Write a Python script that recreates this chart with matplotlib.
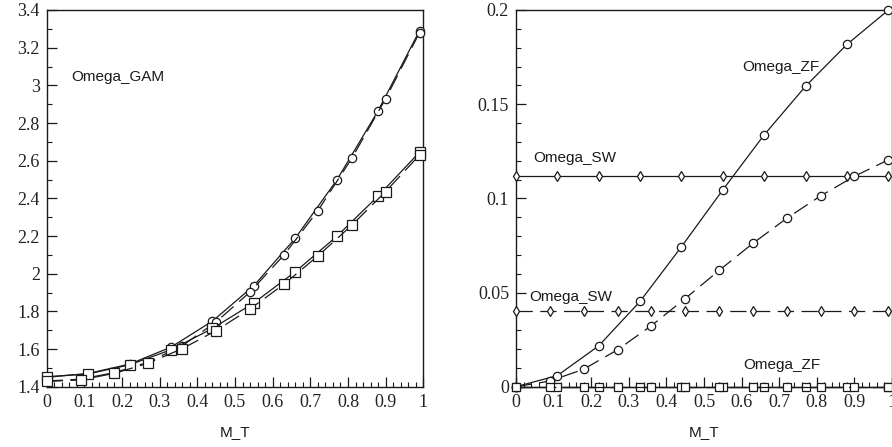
import matplotlib
matplotlib.use("Agg")
import matplotlib.pyplot as plt
from matplotlib.ticker import MultipleLocator

# ---- data ----
x_a = [0.0, 0.11, 0.22, 0.33, 0.44, 0.55, 0.66, 0.77, 0.88, 0.99]
x_b = [0.0, 0.09, 0.18, 0.27, 0.36, 0.45, 0.54, 0.63, 0.72, 0.81, 0.90, 0.99]

# left panel: Omega_GAM
gam_circ_a = [1.450, 1.470, 1.520, 1.610, 1.748, 1.936, 2.188, 2.496, 2.865, 3.290]
gam_circ_b = [1.430, 1.440, 1.475, 1.530, 1.618, 1.744, 1.903, 2.099, 2.334, 2.612, 2.929, 3.280]
gam_sq_a = [1.453, 1.468, 1.516, 1.596, 1.709, 1.845, 2.010, 2.198, 2.412, 2.645]
gam_sq_b = [1.428, 1.436, 1.471, 1.525, 1.602, 1.698, 1.813, 1.944, 2.094, 2.257, 2.436, 2.630]

# right panel
zf_circ_a = [0.0, 0.0059, 0.0217, 0.0453, 0.0743, 0.1045, 0.1337, 0.1595, 0.1817, 0.1999]
zf_circ_b = [0.0, 0.0030, 0.0093, 0.0196, 0.0324, 0.0468, 0.0617, 0.0761, 0.0894, 0.1013, 0.1117, 0.1204]
sw_a = [0.1118] * 10
sw_b = [0.0404] * 12
zf_sq_a = [0.0] * 10
zf_sq_b = [0.0] * 12

left_xticks = [0, 0.1, 0.2, 0.3, 0.4, 0.5, 0.6, 0.7, 0.8, 0.9, 1]
left_xticklabels = ["0", "0.1", "0.2", "0.3", "0.4", "0.5", "0.6", "0.7", "0.8", "0.9", "1"]
left_yticks = [1.4, 1.6, 1.8, 2.0, 2.2, 2.4, 2.6, 2.8, 3.0, 3.2, 3.4]
left_yticklabels = ["1.4", "1.6", "1.8", "2", "2.2", "2.4", "2.6", "2.8", "3", "3.2", "3.4"]
right_yticks = [0, 0.05, 0.1, 0.15, 0.2]
right_yticklabels = ["0", "0.05", "0.1", "0.15", "0.2"]

LC = "#1a1a1a"
DASH = (0, (13, 6))
serif = ["Liberation Serif", "DejaVu Serif"]
sans = ["Liberation Sans", "DejaVu Sans"]

fig = plt.figure(figsize=(8.92, 4.47), dpi=100)
axL = fig.add_axes([46.7 / 892, 1 - 386.7 / 447, 376.6 / 892, 376.7 / 447])
axR = fig.add_axes([516 / 892, 1 - 386.7 / 447, 376 / 892, 376.7 / 447])


def style(ax):
    for s in ax.spines.values():
        s.set_linewidth(1.0)
        s.set_color(LC)
    ax.tick_params(which="both", direction="in", top=False, right=False, colors=LC)
    ax.tick_params(which="major", length=7, width=0.9, labelsize=13, pad=5)
    ax.tick_params(which="minor", length=3.5, width=0.8)
    for lab in ax.get_xticklabels() + ax.get_yticklabels():
        lab.set_fontfamily(serif)
        lab.set_color("#222222")


mk = dict(markerfacecolor="white", markeredgecolor=LC, markeredgewidth=0.9, clip_on=False, color=LC, linewidth=0.9)

# left panel
axL.plot(x_a, gam_circ_a, "-", marker="o", markersize=6, zorder=3, **mk)
axL.plot(x_b, gam_circ_b, linestyle=DASH, marker="o", markersize=6, zorder=3, **mk)
axL.plot(x_a, gam_sq_a, "-", marker="s", markersize=6.5, zorder=4, **mk)
axL.plot(x_b, gam_sq_b, linestyle=DASH, marker="s", markersize=6.5, zorder=4, **mk)
axL.set_xlim(0, 1)
axL.set_ylim(1.4, 3.4)
axL.set_xticks(left_xticks)
axL.set_xticklabels(left_xticklabels)
axL.set_yticks(left_yticks)
axL.set_yticklabels(left_yticklabels)
axL.xaxis.set_minor_locator(MultipleLocator(0.02))
axL.yaxis.set_minor_locator(MultipleLocator(0.1))
style(axL)
axL.set_xlabel("M_T", fontsize=11, fontfamily=sans, color=LC, labelpad=10)
axL.text(0.064, 3.046, "Omega_GAM", fontsize=11, fontfamily=sans, color=LC, ha="left", va="center")

# right panel
axR.plot(x_a, sw_a, "-", marker="d", markersize=5.5, zorder=3, **mk)
axR.plot(x_b, sw_b, linestyle=DASH, marker="d", markersize=5.5, zorder=3, **mk)
axR.plot(x_a, zf_circ_a, "-", marker="o", markersize=6, zorder=4, **mk)
axR.plot(x_b, zf_circ_b, linestyle=DASH, marker="o", markersize=6, zorder=4, **mk)
axR.plot(x_a, zf_sq_a, "-", marker="s", markersize=6, zorder=5, **mk)
axR.plot(x_b, zf_sq_b, linestyle=DASH, marker="s", markersize=6, zorder=5, **mk)
axR.set_xlim(0, 1)
axR.set_ylim(0, 0.2)
axR.set_xticks(left_xticks)
axR.set_xticklabels(left_xticklabels)
axR.set_yticks(right_yticks)
axR.set_yticklabels(right_yticklabels)
axR.xaxis.set_minor_locator(MultipleLocator(0.02))
axR.yaxis.set_minor_locator(MultipleLocator(0.01))
style(axR)
axR.set_xlabel("M_T", fontsize=11, fontfamily=sans, color=LC, labelpad=10)
for tx, ty, s in [(0.603, 0.170, "Omega_ZF"), (0.045, 0.1215, "Omega_SW"),
                  (0.035, 0.0477, "Omega_SW"), (0.604, 0.0115, "Omega_ZF")]:
    axR.text(tx, ty, s, fontsize=11, fontfamily=sans, color=LC, ha="left", va="center")

fig.savefig("out.png", dpi=100)
